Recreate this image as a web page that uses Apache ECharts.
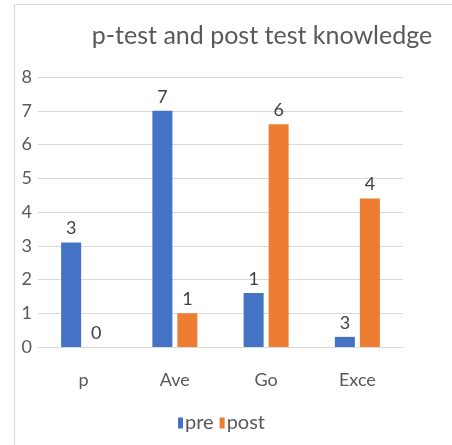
<!DOCTYPE html>
<html>
<head>
<meta charset="utf-8">
<script src="https://cdn.jsdelivr.net/npm/echarts@6/dist/echarts.min.js"></script>
<style>
  html, body { margin: 0; padding: 0; background: #fff; }
  #chart { width: 452px; height: 445px; }
</style>
</head>
<body>
<div id="chart"></div>
<script>
  // values
  var categories = ['p', 'Ave', 'Go', 'Exce']
  var preValues = [3.1, 7, 1.6, 0.3]
  var postValues = [0, 1, 6.6, 4.4]
  // the labels as printed (cut off in the original)
  var preLabels = ['3', '7', '1', '3']
  var postLabels = ['0', '1', '6', '4']

  var font = 'Lato, "Open Sans", sans-serif'
  var myChart = echarts.init(document.getElementById('chart'))
  myChart.setOption({
    backgroundColor: '#fff',
    animation: false,
    graphic: [{
      type: 'rect',
      shape: { x: 14.5, y: 4.5, width: 460, height: 460 },
      style: { fill: 'none', stroke: '#d9d9d9', lineWidth: 1 },
      silent: true
    }],
    title: {
      text: 'p-test and post test knowledge',
      left: 257,
      textAlign: 'center',
      top: 18,
      textStyle: { fontFamily: font, fontSize: 25, fontWeight: 'normal', color: '#595959' }
    },
    legend: {
      left: 173,
      top: 408,
      itemWidth: 5,
      itemHeight: 11,
      itemGap: 6,
      icon: 'rect',
      data: ['pre', 'post'],
      textStyle: { fontFamily: font, fontSize: 20, color: '#595959', padding: [6, 0, 0, -3] }
    },
    grid: {
      left: 38,
      right: 49,
      top: 77,
      bottom: 98
    },
    xAxis: {
      type: 'category',
      data: categories,
      axisLine: { lineStyle: { color: '#d9d9d9' } },
      axisTick: { show: false },
      axisLabel: { fontFamily: font, fontSize: 18, color: '#595959', margin: 24 }
    },
    yAxis: {
      type: 'value',
      min: 0,
      max: 8,
      interval: 1,
      axisLine: { show: false },
      axisTick: { show: false },
      splitLine: { lineStyle: { color: '#d9d9d9', width: 1 } },
      axisLabel: { fontFamily: font, fontSize: 18, color: '#595959', margin: 6 }
    },
    series: [
      {
        name: 'pre',
        type: 'bar',
        data: preValues,
        barWidth: 20,
        barGap: '25%',
        itemStyle: { color: '#4472C4' },
        label: {
          show: true,
          position: 'top',
          distance: 5,
          fontFamily: font,
          fontSize: 18,
          color: '#404040',
          formatter: function (p) { return preLabels[p.dataIndex] }
        }
      },
      {
        name: 'post',
        type: 'bar',
        data: postValues,
        barWidth: 20,
        itemStyle: { color: '#ED7D31' },
        label: {
          show: true,
          position: 'top',
          distance: 5,
          fontFamily: font,
          fontSize: 18,
          color: '#404040',
          formatter: function (p) { return postLabels[p.dataIndex] }
        }
      }
    ]
  })
</script>
</body>
</html>
